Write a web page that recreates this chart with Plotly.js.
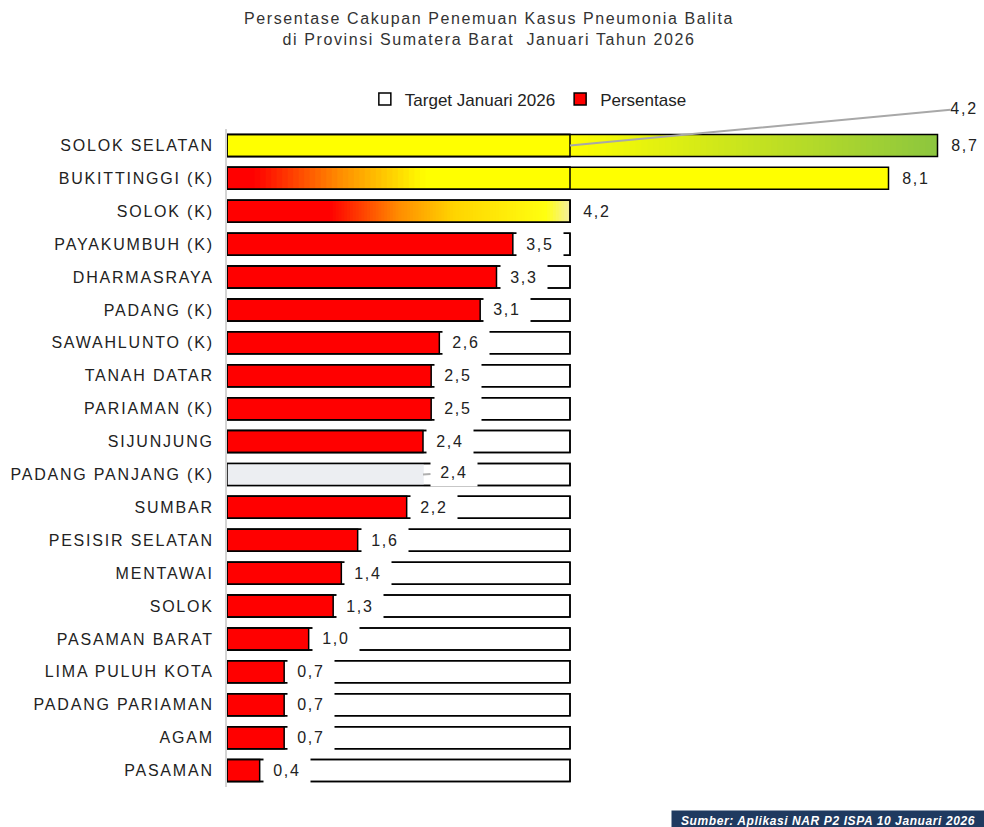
<!DOCTYPE html>
<html>
<head>
<meta charset="utf-8">
<script src="https://cdn.plot.ly/plotly-3.0.1.min.js"></script>
<style>
html,body{margin:0;padding:0;background:#fff;}
#chart{width:984px;height:827px;}
#chart .ytick text{letter-spacing:1.8px;}
#chart .gtitle{letter-spacing:1.6px;}
#chart .annotation-text{letter-spacing:1.8px;}
</style>
</head>
<body>
<div id="chart"></div>
<script>
// ---- data ----
const categories = ["SOLOK SELATAN","BUKITTINGGI (K)","SOLOK (K)","PAYAKUMBUH (K)","DHARMASRAYA","PADANG (K)","SAWAHLUNTO (K)","TANAH DATAR","PARIAMAN (K)","SIJUNJUNG","PADANG PANJANG (K)","SUMBAR","PESISIR SELATAN","MENTAWAI","SOLOK","PASAMAN BARAT","LIMA PULUH KOTA","PADANG PARIAMAN","AGAM","PASAMAN"];
const persentase = [8.7,8.1,4.2,3.5,3.3,3.1,2.6,2.5,2.5,2.4,2.4,2.2,1.6,1.4,1.3,1.0,0.7,0.7,0.7,0.4];
const target = [4.2,4.2,4.2,4.2,4.2,4.2,4.2,4.2,4.2,4.2,4.2,4.2,4.2,4.2,4.2,4.2,4.2,4.2,4.2,4.2];
const targetLabel = "4,2";
const sourceText = "Sumber: Aplikasi NAR P2 ISPA 10 Januari 2026";

// ---- styles ----
const RED = "#ff0000";
const gradientStops = {
  "SOLOK SELATAN": [[0,"#ffff00"],[0.48,"#ffff00"],[1,"#8cc63f"]],
  "BUKITTINGGI (K)": [[0,"#ff0000"],[0.04,"#ff0000"],[0.17,"#ff8c00"],[0.30,"#ffff00"],[1,"#ffff00"]],
  "SOLOK (K)": [[0,"#ff0000"],[0.30,"#ff0000"],[0.50,"#ff8c00"],[0.66,"#ffd400"],[0.93,"#ffff10"],[1,"#f4eea0"]]
};
const greyRows = {"PADANG PANJANG (K)": "#eceef2"};

function hexToRgb(h){h=h.replace('#','');return [parseInt(h.substr(0,2),16),parseInt(h.substr(2,2),16),parseInt(h.substr(4,2),16)];}
function colorAt(stops,t){
  for(let i=0;i<stops.length-1;i++){
    const [t0,c0]=stops[i],[t1,c1]=stops[i+1];
    if(t>=t0 && t<=t1){
      const f=t1===t0?0:(t-t0)/(t1-t0);
      const a=hexToRgb(c0),b=hexToRgb(c1);
      return 'rgb('+a.map((v,k)=>Math.round(v+(b[k]-v)*f)).join(',')+')';
    }
  }
  return stops[stops.length-1][1];
}
const fmt = v => v.toFixed(1).replace('.',',');

// main persentase trace (solid rows)
const pX=[],pColor=[],pLine=[];
categories.forEach((c,i)=>{
  if(gradientStops[c]){pX.push(null);pColor.push(RED);pLine.push('#000');}
  else if(greyRows[c]){pX.push(persentase[i]);pColor.push(greyRows[c]);pLine.push(greyRows[c]);}
  else {pX.push(persentase[i]);pColor.push(RED);pLine.push('#000');}
});

// gradient segments
const N=120;
const gY=[],gX=[],gBase=[],gColor=[];
const oX=[];
categories.forEach((c,i)=>{
  const st=gradientStops[c];
  if(st){
    const v=persentase[i], w=v/N;
    for(let k=0;k<N;k++){
      gY.push(c); gBase.push(k*w); gX.push(Math.min(w*2, v-k*w)); gColor.push(colorAt(st,(k+0.5)/N));
    }
    oX.push(v);
  } else oX.push(null);
});

const BW=0.67;
const traces=[
  {type:'bar',orientation:'h',name:'Target Januari 2026',y:categories,x:target,width:BW,
   marker:{color:'#ffffff',line:{color:'#000',width:1.5}},hoverinfo:'skip'},
  {type:'bar',orientation:'h',name:'Persentase',y:categories,x:pX,width:BW,
   marker:{color:pColor,line:{color:pLine,width:1.5}},hoverinfo:'skip'},
  {type:'bar',orientation:'h',showlegend:false,y:gY,x:gX,base:gBase,width:BW,
   marker:{color:gColor,line:{width:0}},hoverinfo:'skip'},
  {type:'bar',orientation:'h',showlegend:false,y:categories,x:oX,width:BW,
   marker:{color:'rgba(0,0,0,0)',line:{color:'#000',width:1.5}},hoverinfo:'skip'},
  {type:'bar',orientation:'h',showlegend:false,y:categories,x:target,width:BW,
   marker:{color:'rgba(0,0,0,0)',line:{color:'#000',width:1.5}},hoverinfo:'skip'}
];

const FONT="Liberation Sans, Arial, sans-serif";
const annotations=[];
categories.forEach((c,i)=>{
  if(greyRows[c]){
    annotations.push({x:persentase[i],y:c,xref:'x',yref:'y',text:fmt(persentase[i]),showarrow:true,
      arrowhead:0,arrowwidth:2,arrowcolor:'#b0b0b0',ax:31,ay:-2,
      bgcolor:'#ffffff',width:36,borderpad:5,font:{family:FONT,size:16,color:'#222'}});
  } else {
    annotations.push({x:persentase[i],y:c,xref:'x',yref:'y',text:fmt(persentase[i]),showarrow:false,
      xanchor:'left',xshift:3,bgcolor:'#ffffff',width:36,borderpad:5,
      font:{family:FONT,size:16,color:'#222'}});
  }
});
// target value callout
annotations.push({x:target[0],y:categories[0],xref:'x',yref:'y',text:targetLabel,showarrow:true,
  arrowhead:0,arrowwidth:2,arrowcolor:'#a8a8a8',ax:394,ay:-37,borderpad:2,
  font:{family:FONT,size:16,color:'#222'}});
// source box
annotations.push({xref:'paper',yref:'paper',x:0.8177,y:-0.0517,xanchor:'center',yanchor:'middle',
  text:'<span style="letter-spacing:0.6px"><b><i>'+sourceText+'</i></b></span>',showarrow:false,
  bgcolor:'#1f3a60',width:306,borderpad:3,
  font:{family:FONT,size:12,color:'#ffffff'}});

const layout={
  width:984,height:827,
  paper_bgcolor:'#ffffff',plot_bgcolor:'#ffffff',
  margin:{l:227,r:22,t:129,b:40},
  barmode:'overlay',
  font:{family:FONT,size:16,color:'#222'},
  title:{text:'Persentase Cakupan Penemuan Kasus Pneumonia Balita<br>di Provinsi Sumatera Barat  Januari Tahun 2026',
    x:0.497,xref:'container',xanchor:'center',y:0.9705,yref:'container',yanchor:'middle',
    font:{family:FONT,size:16,color:'#333'}},
  showlegend:true,
  legend:{orientation:'h',x:0.410,xanchor:'center',y:1.045,yanchor:'middle',
    font:{family:FONT,size:17,color:'#222'},traceorder:'normal',itemwidth:30,bgcolor:'rgba(0,0,0,0)'},
  xaxis:{range:[0,9],visible:false,fixedrange:true},
  yaxis:{type:'category',categoryorder:'array',categoryarray:categories,autorange:'reversed',
    showline:true,linecolor:'#d4d4d4',linewidth:2,showgrid:false,zeroline:false,ticks:'',
    ticklabelstandoff:8,tickfont:{family:FONT,size:16,color:'#222'}},
  annotations:annotations
};
Plotly.newPlot('chart',traces,layout,{staticPlot:true,displayModeBar:false});
</script>
</body>
</html>
